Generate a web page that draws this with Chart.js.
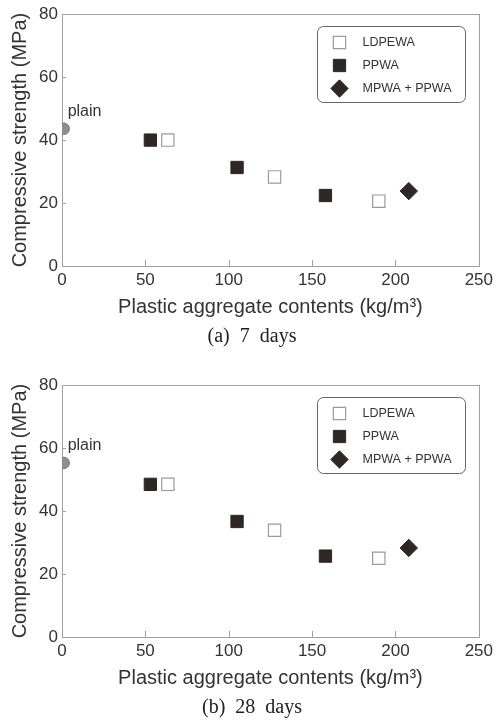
<!DOCTYPE html>
<html>
<head>
<meta charset="utf-8">
<title>Compressive strength vs plastic aggregate contents</title>
<script src="https://cdn.jsdelivr.net/npm/chart.js@4/dist/chart.umd.min.js"></script>
<style>
  body { margin: 0; background: #fff; width: 497px; height: 720px; overflow: hidden; position: relative; }
  .panel { position: absolute; left: 0; width: 497px; height: 349px; }
</style>
</head>
<body>
<div class="panel" style="top:0"><canvas id="chart-7d" width="497" height="349"></canvas></div>
<div class="panel" style="top:371px"><canvas id="chart-28d" width="497" height="349"></canvas></div>
<script>
// === 1. Data ===

/** Plastic aggregate contents (kg/m3) for each aggregate type. */
const ldpeContents = [63.5, 127.5, 190];
const ppContents = [53, 105, 158];
const mixContents = [208];
const plainContents = [1];

/** Compressive strength (MPa) at 7 days. */
const ldpe7 = [40.0, 28.3, 20.6];
const pp7 = [40.0, 31.3, 22.4];
const mix7 = [23.8];
const plain7 = [43.6];

/** Compressive strength (MPa) at 28 days. */
const ldpe28 = [48.5, 33.9, 25.0];
const pp28 = [48.5, 36.7, 25.7];
const mix28 = [28.3];
const plain28 = [55.3];

const seriesNames = ['LDPEWA', 'PPWA', 'MPWA + PPWA', 'plain'];
const xTickValues = [0, 50, 100, 150, 200, 250];
const yTickValues = [0, 20, 40, 60, 80];
const captions = ['(a)  7  days', '(b)  28  days'];

// === 2. Shared styles ===

const SANS = '"Liberation Sans", Arial, sans-serif';
const TEXT = '#333';
const FRAME = '#a0a0a0';
const DARK = '#2f2727';

Chart.defaults.font.family = SANS;
Chart.defaults.color = TEXT;

const toPoints = (xs, ys) => xs.map((x, i) => ({ x, y: ys[i] }));

/** Fallback for drawing a marker if Chart.helpers is not exposed. */
function drawMarker(ctx, style, r, x, y) {
  if (Chart.helpers && Chart.helpers.drawPoint) {
    Chart.helpers.drawPoint(ctx, { pointStyle: style, radius: r, borderWidth: ctx.lineWidth, rotation: 0 }, x, y);
    return;
  }
  ctx.beginPath();
  if (style === 'rectRot') {
    ctx.moveTo(x - r, y); ctx.lineTo(x, y - r); ctx.lineTo(x + r, y); ctx.lineTo(x, y + r); ctx.closePath();
  } else if (style === 'rect') {
    const s = r * Math.SQRT1_2;
    ctx.rect(x - s, y - s, 2 * s, 2 * s);
  } else {
    ctx.arc(x, y, r, 0, Math.PI * 2);
  }
  ctx.fill();
  ctx.stroke();
}

// === 3. Plugins: frame with inward ticks, legend box, "plain" label, caption ===

const framePlugin = {
  id: 'frame',
  beforeDatasetsDraw(chart) {
    const { ctx, chartArea: a, scales: { x, y } } = chart;
    ctx.save();
    ctx.strokeStyle = FRAME;
    ctx.lineWidth = 1;
    ctx.strokeRect(Math.round(a.left) + 0.5, Math.round(a.top) + 0.5, Math.round(a.width), Math.round(a.height));
    ctx.beginPath();
    xTickValues.slice(1, -1).forEach(v => {
      const px = Math.round(x.getPixelForValue(v)) + 0.5;
      ctx.moveTo(px, a.bottom); ctx.lineTo(px, a.bottom - 6);
    });
    yTickValues.slice(1, -1).forEach(v => {
      const py = Math.round(y.getPixelForValue(v)) + 0.5;
      ctx.moveTo(a.left, py); ctx.lineTo(a.left + 4, py);
    });
    ctx.stroke();
    ctx.restore();
  }
};

const legendPlugin = {
  id: 'boxLegend',
  afterDraw(chart) {
    const { ctx, chartArea: a } = chart;
    const bx = Math.round(a.right - 162) + 0.5, by = Math.round(a.top + 12) + 0.5, bw = 148, bh = 76;
    ctx.save();
    ctx.strokeStyle = '#666';
    ctx.lineWidth = 1;
    ctx.beginPath();
    ctx.roundRect(bx, by, bw, bh, 6);
    ctx.stroke();
    ctx.font = '12.5px ' + SANS;
    ctx.textBaseline = 'middle';
    ctx.textAlign = 'left';
    [0, 1, 2].forEach(i => {
      const ds = chart.data.datasets[i];
      const cy = by + 16 + i * 23;
      ctx.fillStyle = ds.backgroundColor;
      ctx.strokeStyle = ds.borderColor;
      ctx.lineWidth = ds.borderWidth;
      drawMarker(ctx, ds.pointStyle, ds.pointRadius, bx + 22, cy);
      ctx.fillStyle = TEXT;
      ctx.fillText(ds.label, bx + 45, cy);
    });
    ctx.restore();
  }
};

const plainLabelPlugin = {
  id: 'plainLabel',
  afterDatasetsDraw(chart) {
    const { ctx } = chart;
    const pt = chart.getDatasetMeta(3).data[0];
    ctx.save();
    ctx.font = '16px ' + SANS;
    ctx.fillStyle = TEXT;
    ctx.textBaseline = 'middle';
    ctx.fillText('plain', pt.x + 4, pt.y - 17);
    ctx.restore();
  }
};

const captionPlugin = {
  id: 'caption',
  afterDraw(chart, args, opts) {
    const { ctx } = chart;
    ctx.save();
    ctx.font = '20px "Liberation Serif", "Times New Roman", serif';
    ctx.fillStyle = '#222';
    ctx.textAlign = 'center';
    ctx.textBaseline = 'middle';
    ctx.fillText(opts.text, 252, 337);
    ctx.restore();
  }
};

// === 4. Chart creation ===

function makeChart(canvasId, ldpe, pp, mix, plain, caption) {
  return new Chart(document.getElementById(canvasId), {
    type: 'scatter',
    data: {
      datasets: [
        { label: seriesNames[0], data: toPoints(ldpeContents, ldpe), pointStyle: 'rect', pointRadius: 8.7,
          backgroundColor: '#fff', borderColor: '#9a9a9a', borderWidth: 1.2 },
        { label: seriesNames[1], data: toPoints(ppContents, pp), pointStyle: 'rect', pointRadius: 8.7,
          backgroundColor: DARK, borderColor: DARK, borderWidth: 1 },
        { label: seriesNames[2], data: toPoints(mixContents, mix), pointStyle: 'rectRot', pointRadius: 8.7,
          backgroundColor: DARK, borderColor: DARK, borderWidth: 1 },
        { label: seriesNames[3], data: toPoints(plainContents, plain), pointStyle: 'circle', pointRadius: 5.8,
          backgroundColor: '#8e8e8e', borderColor: '#777', borderWidth: 1 }
      ]
    },
    options: {
      responsive: false,
      animation: false,
      devicePixelRatio: 1,
      events: [],
      layout: { padding: { top: 14, right: 15, left: 0, bottom: 0 } },
      plugins: {
        legend: { display: false },
        tooltip: { enabled: false },
        caption: { text: caption }
      },
      scales: {
        x: {
          type: 'linear', min: 0, max: 250,
          afterBuildTicks: s => { s.ticks = xTickValues.map(v => ({ value: v })); },
          afterFit: s => { s.height = 83; },
          ticks: { font: { size: 17 }, padding: 4, color: TEXT, maxRotation: 0 },
          grid: { display: false, drawTicks: false },
          border: { display: false },
          title: { display: true, text: 'Plastic aggregate contents (kg/m³)', font: { size: 20 },
                   color: TEXT, padding: { top: 0, bottom: 30 } }
        },
        y: {
          type: 'linear', min: 0, max: 80,
          afterBuildTicks: s => { s.ticks = yTickValues.map(v => ({ value: v })); },
          afterFit: s => { s.width = 62; },
          ticks: { font: { size: 17 }, padding: 4, color: TEXT },
          grid: { display: false, drawTicks: false },
          border: { display: false },
          title: { display: true, text: 'Compressive strength (MPa)', font: { size: 20 },
                   color: TEXT, padding: { top: 8, bottom: 0 } }
        }
      }
    },
    plugins: [framePlugin, legendPlugin, plainLabelPlugin, captionPlugin]
  });
}

makeChart('chart-7d', ldpe7, pp7, mix7, plain7, captions[0]);
makeChart('chart-28d', ldpe28, pp28, mix28, plain28, captions[1]);
</script>
</body>
</html>
